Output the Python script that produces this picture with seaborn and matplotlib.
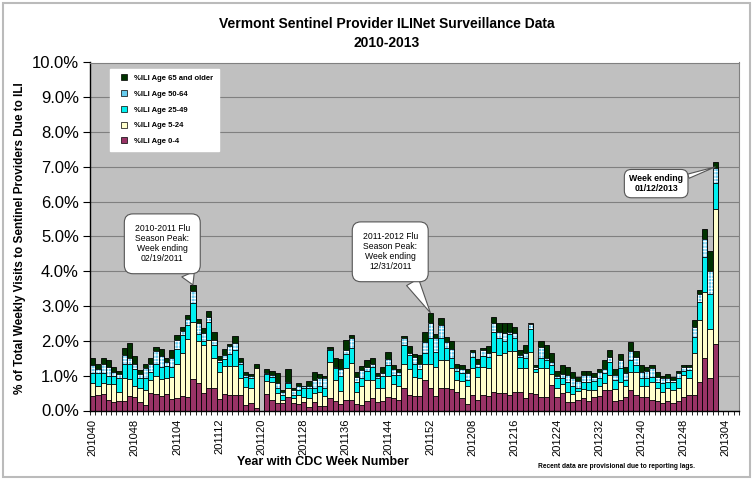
import numpy as np
import pandas as pd
import seaborn as sns
import matplotlib.pyplot as plt
from matplotlib.lines import Line2D
from matplotlib.patches import Rectangle
from matplotlib.ticker import FuncFormatter, MultipleLocator

nan = float("nan")

# CDC week categories 201040 .. 201306 (data reported through 201302)
weeks = ([f"2010{w:02d}" for w in range(40, 53)] + [f"2011{w:02d}" for w in range(1, 53)]
         + [f"2012{w:02d}" for w in range(1, 53)] + [f"2013{w:02d}" for w in range(1, 7)])

# %ILI by age group
age_0_4 = [.43, .45, .47, .30, .24, .28, .28, .43, .39, .24, .16, .49, .47, .43, .47, .33,
           .35, .42, .40, .90, .80, .50, .66, .64, .33, .47, .45, .45, .45, .17, .21, .06,
           nan, .48, .30, .21, .22, .40, .21, .18, .24, .11, .23, .14, .12, .35, .26, .18,
           .30, .30, .18, .16, .26, .37, .23, .26, .40, .35, .30, .66, .45, .42, .43, .88,
           .64, .43, .64, .64, .62, .52, .35, .18, .45, .30, .45, .43, .52, .50, .50, .45,
           .52, .52, .37, .51, .47, .40, .40, .72, .40, .50, .25, .24, .30, .35, .28, .40,
           .43, .60, .60, .28, .30, .40, .60, .45, .38, .40, .30, .26, .21, .26, .21, .26,
           .40, .45, .45, .83, 1.51, .94, 1.90]
age_5_24 = [.37, .26, .33, .45, .51, .26, .64, .47, .30, .40, .43, .39, .52, .47, .45, .62,
            1.00, 1.23, 1.65, 1.65, 1.20, 1.38, 1.38, .86, .77, .82, .84, .84, .47, .51, .45, 1.16,
            nan, .37, .53, .29, .08, .24, .14, .27, .16, .26, .27, .40, .31, 1.05, .62, .38,
            .93, 1.07, .36, .53, .62, .51, .43, .40, .60, .40, .41, .69, .74, .55, .49, .47,
            .71, .83, .81, .81, .59, .36, .50, .51, .76, .67, .81, .78, 1.17, 1.09, 1.14, 1.25,
            1.18, .69, .84, 1.18, .64, .81, .81, .33, .26, .25, .27, .23, .26, .26, .31, .20,
            .26, .20, .42, .34, .53, .29, .51, .66, .32, .29, .53, .38, .33, .38, .38, .38,
            .62, .47, 1.19, 1.76, 1.89, 1.41, 3.90]
age_25_49 = [.27, .38, .27, .25, .25, .38, .43, .45, .50, .28, .33, .23, .36, .36, .36, .31,
             .41, .53, .40, .55, .21, .11, .50, .38, .30, .18, .32, .44, .41, .28, .26, .00,
             nan, .19, .14, .14, .15, .14, .10, .14, .24, .27, .16, .15, .21, .33, .35, .44,
             .38, .43, .29, .23, .25, .38, .26, .34, .30, .27, .31, .53, .40, .38, .26, .31,
             .74, .43, .62, .35, .30, .25, .22, .19, .33, .27, .31, .33, .57, .50, .35, .51,
             .37, .33, .29, .66, .07, .29, .24, .25, .26, .19, .29, .24, .10, .22, .24, .25,
             .25, .27, .38, .26, .38, .19, .34, .19, .22, .23, .14, .19, .24, .19, .24, .28,
             .11, .24, .47, .52, 1.00, 1.00, .74]
age_50_64 = [.23, .10, .26, .26, .10, .12, .24, .15, .16, .13, .29, .24, .35, .31, .12, .24,
             .26, .10, .17, .32, .31, .25, .15, .14, .05, .12, .25, .22, .07, .06, .08, .00,
             nan, .03, .05, .14, .09, .05, .14, .12, .05, .07, .22, .25, .28, .05, .02, .19,
             .12, .28, .14, .24, .13, .09, .08, .07, .17, .17, .09, .21, .05, .19, .15, .31,
             .43, .38, .40, .17, .27, .08, .12, .19, .13, .11, .16, .12, .26, .17, .24, .05,
             .16, .05, .14, .14, .06, .33, .05, .10, .08, .11, .21, .23, .20, .19, .19, .12,
             .17, .13, .14, .14, .24, .19, .25, .24, .18, .21, .24, .14, .14, .11, .05, .15,
             .13, .10, .29, .24, .54, .67, .43]
age_65_up = [.20, .16, .17, .19, .16, .09, .21, .45, .22, .11, .14, .16, .13, .19, .10, .23,
             .14, .12, .11, .19, .10, .13, .16, .24, .12, .17, .06, .19, .12, .08, .05, .11,
             nan, .11, .12, .29, .05, .36, .07, .07, .02, .14, .22, .10, .08, .05, .25, .28,
             .31, .10, .13, .13, .18, .16, .07, .18, .20, .11, .08, .04, .22, .07, .26, .29,
             .29, .14, .20, .14, .22, .14, .11, .12, .06, .12, .08, .19, .17, .26, .29, .26,
             .17, .14, .24, .02, .06, .16, .38, .25, .14, .25, .24, .17, .11, .11, .11, .12,
             .08, .25, .19, .17, .16, .19, .27, .17, .22, .13, .09, .13, .08, .10, .09, .07,
             .06, .04, .19, .12, .27, .55, .17]

groups = ["%ILI Age 0-4", "%ILI Age 5-24", "%ILI Age 25-49", "%ILI Age 50-64", "%ILI Age 65 and older"]
colors = ["#993366", "#FFFFCC", "#00F0F0", "#66CCEE", "#003300"]

df = pd.DataFrame({"week": weeks[:len(age_0_4)], groups[0]: age_0_4, groups[1]: age_5_24,
                   groups[2]: age_25_49, groups[3]: age_50_64, groups[4]: age_65_up})
stack = df[groups].cumsum(axis=1)
stack["week"] = df["week"]

plt.rcParams["font.family"] = ["Liberation Sans", "DejaVu Sans"]
plt.rcParams["hatch.linewidth"] = 0.6

fig = plt.figure(figsize=(7.54, 4.80), dpi=100)
ax = fig.add_axes([90 / 754, 1 - 410.5 / 480, 649 / 754, 348 / 480])
ax.set_facecolor("#C0C0C0")

# stacked bars: draw cumulative totals from the top group down
bar_kw = dict(x="week", order=weeks, width=1.0, saturation=1, errorbar=None,
              edgecolor="black", linewidth=0.6, ax=ax)
sns.barplot(data=stack, y=groups[4], color=colors[4], **bar_kw)
n0 = len(ax.patches)
sns.barplot(data=stack, y=groups[3], color=colors[3], **bar_kw)
for p in ax.patches[n0:]:
    p.set_hatch("+++++")
    p.set_edgecolor("white")
    p.set_linewidth(0)
sns.barplot(data=stack, y=groups[3], color=colors[3], fill=False, **bar_kw)
for g in (2, 1, 0):
    sns.barplot(data=stack, y=groups[g], color=colors[g], **bar_kw)

ax.set_xlim(-0.5, len(weeks) - 0.5)
ax.set_ylim(0, 10)
ax.yaxis.set_major_locator(MultipleLocator(1))
ax.yaxis.set_major_formatter(FuncFormatter(lambda v, _: f"{v:.1f}%"))
ax.grid(axis="y", color="#808080", linewidth=0.8)
ax.set_axisbelow(True)
ax.tick_params(axis="y", labelsize=12, length=5, width=0.8, pad=3)

ax.set_xticks(range(0, len(weeks), 8))
ax.set_xticklabels(weeks[::8], rotation=90, fontsize=8)
ax.set_xticks(np.arange(-0.5, len(weeks), 1), minor=True)
ax.tick_params(axis="x", which="major", length=0, pad=6)
ax.tick_params(axis="x", which="minor", length=3, width=0.6)
ax.set_xlabel("")
ax.set_ylabel("")

for s in ("top", "right"):
    ax.spines[s].set_color("#808080")
ax.spines["left"].set_linewidth(1.0)
ax.spines["bottom"].set_linewidth(1.0)

fig.text(387 / 754, 1 - 24 / 480, "Vermont Sentinel Provider ILINet Surveillance Data",
         ha="center", va="center", fontsize=10, fontweight="bold",
         family=["Liberation Sans Narrow", "Liberation Sans"])
fig.text(387 / 754, 1 - 43 / 480, "2010-2013", ha="center", va="center", fontsize=10,
         fontweight="bold", family=["Liberation Sans Narrow", "Liberation Sans"])
fig.text(20 / 754, 1 - 238 / 480, "% of Total Weekly Visits to Sentinel Providers Due to ILI",
         ha="center", va="center", rotation=90, fontsize=8.5, fontweight="bold",
         family=["Liberation Sans Narrow", "Liberation Sans"])
fig.text(323 / 754, 1 - 462 / 480, "Year with CDC Week Number", ha="center", va="center",
         fontsize=9, fontweight="bold")
fig.text(616 / 754, 1 - 467 / 480, "Recent data are provisional due to reporting lags.",
         ha="center", va="center", fontsize=4.8, fontweight="bold")

# legend (top group first)
handles = [Line2D([], [], linestyle="none", marker="s", markersize=4, markerfacecolor=c,
                  markeredgecolor="black", markeredgewidth=0.5) for c in colors[::-1]]
leg = ax.legend(handles, groups[::-1], loc="upper left", bbox_to_anchor=(110 / 754, 1 - 69 / 480),
                bbox_transform=fig.transFigure, borderaxespad=0, frameon=True, fancybox=False,
                facecolor="white", edgecolor="white", framealpha=1, borderpad=0.75,
                labelspacing=1.1, handlelength=2.2, handletextpad=0.2,
                prop={"size": 5.5, "weight": "bold"})

# call-outs
box = dict(boxstyle="round,pad=1.2,rounding_size=1.0", fc="white", ec="#555555", lw=0.8)
wedge = dict(arrowstyle="wedge,tail_width=1.6,shrink_factor=0.5", fc="white", ec="#555555",
             lw=0.8, shrinkA=0, shrinkB=0)
ax.annotate("2010-2011 Flu\nSeason Peak:\nWeek ending\n02/19/2011", xy=(19, 3.61),
            xytext=(13.2, 4.79), ha="center", va="center", fontsize=6.2, linespacing=1.15,
            bbox=box, arrowprops=dict(wedge, relpos=(0.85, 0.1)))
ax.annotate("2011-2012 Flu\nSeason Peak:\nWeek ending\n12/31/2011", xy=(64, 2.81),
            xytext=(56.4, 4.56), ha="center", va="center", fontsize=6.2, linespacing=1.15,
            bbox=box, arrowprops=dict(wedge, relpos=(0.75, 0.1)))
ax.annotate("Week ending\n01/12/2013", xy=(118, 7.0), xytext=(106.8, 6.52), ha="center",
            va="center", fontsize=6.3, fontweight="bold", linespacing=1.1,
            bbox=dict(boxstyle="round,pad=0.55,rounding_size=0.8", fc="white", ec="#555555", lw=0.8),
            arrowprops=dict(arrowstyle="wedge,tail_width=0.5,shrink_factor=0.5", fc="white",
                            ec="#555555", lw=0.8, shrinkA=0, shrinkB=0, relpos=(0.95, 0.75)))

fig.patches.append(Rectangle((3 / 754, 3 / 480), 747 / 754, 474 / 480, transform=fig.transFigure,
                             fill=False, edgecolor="#BBBBBB", linewidth=1.5))

fig.savefig("out.png", dpi=100)
